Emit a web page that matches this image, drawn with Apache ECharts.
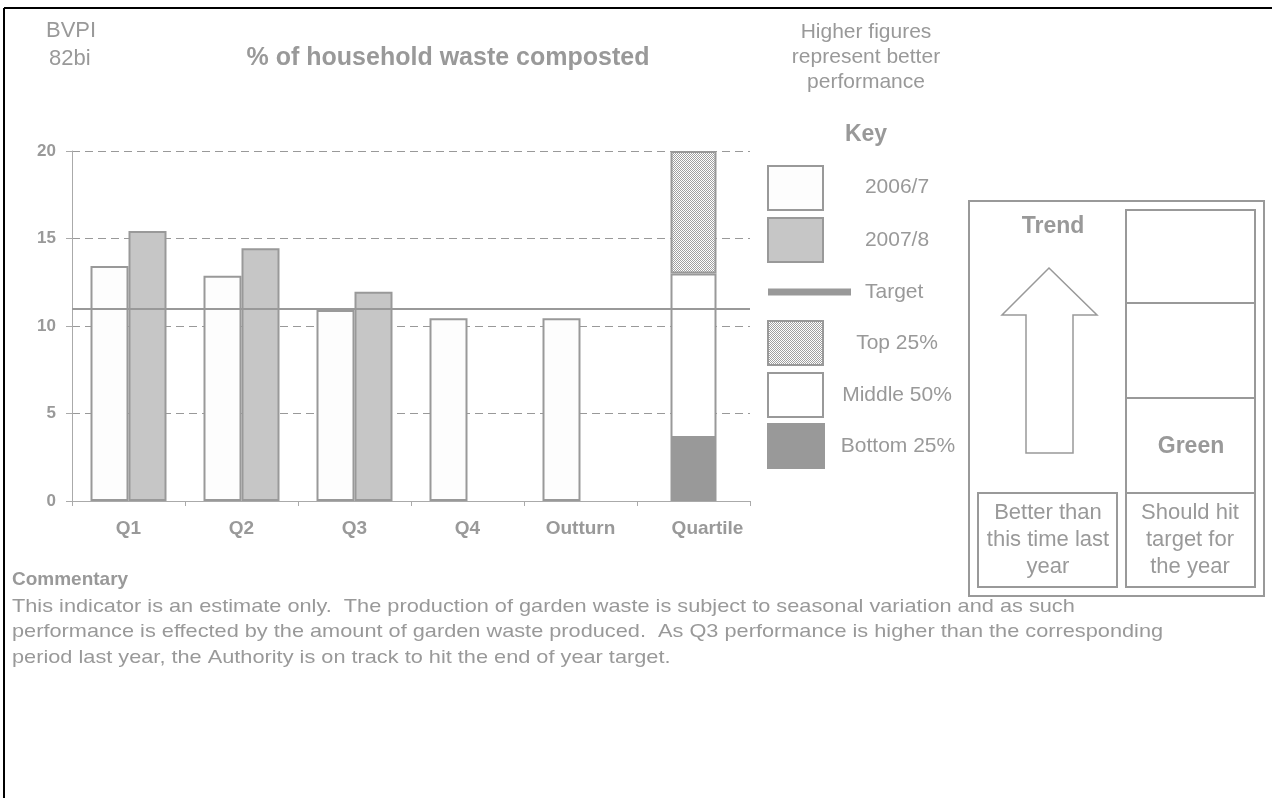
<!DOCTYPE html>
<html>
<head>
<meta charset="utf-8">
<script src="https://cdn.jsdelivr.net/npm/echarts@6/dist/echarts.min.js"></script>
<style>
html,body{margin:0;padding:0;background:#fff;}
#c{width:1272px;height:798px;}
</style>
</head>
<body>
<div id="c"></div>
<script>
const categories = ['Q1', 'Q2', 'Q3', 'Q4', 'Outturn', 'Quartile'];
const y2006 = [13.43, 12.87, 10.91, 10.44, 10.44, '-'];
const y2007 = [15.43, 14.44, 11.96, '-', '-', '-'];
const target = 11;
const quartileBottom = ['-', '-', '-', '-', '-', 3.6];
const quartileMiddle = ['-', '-', '-', '-', '-', 9.4];
const quartileTop = ['-', '-', '-', '-', '-', 7.0];
const yTicks = [0, 5, 10, 15, 20];

const G = '#999999';
const FONT = 'Liberation Sans, Arial, sans-serif';

const pc = document.createElement('canvas');
pc.width = 2; pc.height = 2;
const px = pc.getContext('2d');
px.fillStyle = '#ffffff'; px.fillRect(0, 0, 2, 2);
px.fillStyle = '#a0a0a0'; px.fillRect(0, 0, 1, 1); px.fillRect(1, 1, 1, 1);

const chart = echarts.init(document.getElementById('c'), null, {renderer: 'canvas'});

function txt(x, y, text, size, bold, align, extra) {
  return Object.assign({
    type: 'text', x: x, y: y, silent: true,
    style: {text: text, fill: G, font: (bold ? 'bold ' : '') + size + 'px ' + FONT,
            textAlign: align || 'left', textVerticalAlign: 'middle'}
  }, extra || {});
}
function rect(x, y, w, h, fill, stroke, lw) {
  return {type: 'rect', silent: true, shape: {x: x, y: y, width: w, height: h},
          style: {fill: fill, stroke: stroke || null, lineWidth: lw || 0}};
}
function line(x1, y1, x2, y2, stroke, lw) {
  return {type: 'line', silent: true, shape: {x1: x1, y1: y1, x2: x2, y2: y2},
          style: {stroke: stroke, lineWidth: lw}};
}
const wide = {scaleX: 1.144};

const graphics = [
  line(4, 8, 1272, 8, '#000', 2),
  line(4, 8, 4, 798, '#000', 2),
  txt(46, 31, 'BVPI', 22, false),
  txt(49, 59, '82bi', 22, false),
  txt(448, 58, '% of household waste composted', 25, true, 'center'),
  txt(866, 32, 'Higher figures', 21, false, 'center'),
  txt(866, 57, 'represent better', 21, false, 'center'),
  txt(866, 82, 'performance', 21, false, 'center'),
  txt(866, 135, 'Key', 23, true, 'center'),
  // key
  rect(768, 166, 55, 44, '#fdfdfd', G, 2),
  txt(897, 187, '2006/7', 21, false, 'center'),
  rect(768, 218, 55, 44, '#c6c6c6', G, 2),
  txt(897, 240, '2007/8', 21, false, 'center'),
  line(768, 292, 851, 292, G, 7),
  txt(865, 292, 'Target', 21, false, 'left'),
  rect(768, 321, 55, 44, {image: pc, repeat: 'repeat'}, G, 2),
  txt(897, 343, 'Top 25%', 21, false, 'center'),
  rect(768, 373, 55, 44, '#ffffff', G, 2),
  txt(897, 395, 'Middle 50%', 21, false, 'center'),
  rect(767, 423, 58, 46, G, null, 0),
  txt(898, 446, 'Bottom 25%', 21, false, 'center'),
  // right panel
  rect(969, 201, 295, 395, 'none', G, 2),
  rect(1126, 210, 129, 377, 'none', G, 2),
  line(1126, 303, 1255, 303, G, 2),
  line(1126, 398, 1255, 398, G, 2),
  line(1126, 493, 1255, 493, G, 2),
  rect(978, 493, 139, 94, 'none', G, 2),
  txt(1053, 227, 'Trend', 23, true, 'center'),
  {type: 'polygon', silent: true,
   shape: {points: [[1049, 268], [1097, 315], [1073, 315], [1073, 453], [1026, 453], [1026, 315], [1002, 315]]},
   style: {fill: '#fff', stroke: G, lineWidth: 1.5}},
  txt(1191, 447, 'Green', 23, true, 'center'),
  txt(1048, 513, 'Better than', 22, false, 'center'),
  txt(1048, 540, 'this time last', 22, false, 'center'),
  txt(1048, 567, 'year', 22, false, 'center'),
  txt(1190, 513, 'Should hit', 22, false, 'center'),
  txt(1190, 540, 'target for', 22, false, 'center'),
  txt(1190, 567, 'the year', 22, false, 'center'),
  // commentary
  txt(12, 580, 'Commentary', 19, true, 'left'),
  txt(12, 607, 'This indicator is an estimate only.  The production of garden waste is subject to seasonal variation and as such', 19, false, 'left', wide),
  txt(12, 632, 'performance is effected by the amount of garden waste produced.  As Q3 performance is higher than the corresponding', 19, false, 'left', wide),
  txt(12, 658, 'period last year, the Authority is on track to hit the end of year target.', 19, false, 'left', wide)
];

const catData = categories.map(function (c, i) {
  return i === categories.length - 1 ? {value: c, textStyle: {padding: [0, 0, 0, 28]}} : c;
});

const option = {
  animation: false,
  backgroundColor: '#ffffff',
  grid: {left: 72, right: 522, top: 151, bottom: 297, containLabel: false},
  xAxis: [{
    type: 'category', data: catData, gridIndex: 0,
    axisLine: {lineStyle: {color: '#aaaaaa', width: 1}},
    axisTick: {show: true, length: 5, lineStyle: {color: '#aaaaaa'}},
    axisLabel: {color: G, fontWeight: 'bold', fontSize: 19, fontFamily: FONT, margin: 18}
  }, {
    type: 'category', data: categories, gridIndex: 0, show: false
  }],
  yAxis: {
    type: 'value', min: yTicks[0], max: yTicks[yTicks.length - 1], interval: 5,
    axisLine: {show: true, lineStyle: {color: '#aaaaaa', width: 1}},
    axisTick: {show: true, length: 6, lineStyle: {color: '#aaaaaa'}},
    axisLabel: {color: G, fontWeight: 'bold', fontSize: 17, fontFamily: FONT, margin: 16},
    splitLine: {show: true, lineStyle: {color: G, type: [8, 5], width: 1}}
  },
  series: [{
    name: '2006/7', type: 'bar', xAxisIndex: 0, data: y2006, barWidth: 38, barGap: '0%',
    itemStyle: {color: '#fdfdfd', borderColor: G, borderWidth: 2}, z: 2
  }, {
    name: '2007/8', type: 'bar', xAxisIndex: 0, data: y2007, barWidth: 38, barGap: '0%',
    itemStyle: {color: '#c6c6c6', borderColor: G, borderWidth: 2}, z: 2
  }, {
    name: 'Bottom 25%', type: 'bar', xAxisIndex: 1, stack: 'q', data: quartileBottom, barWidth: 46,
    itemStyle: {color: G, borderWidth: 0}, z: 2
  }, {
    name: 'Middle 50%', type: 'bar', xAxisIndex: 1, stack: 'q', data: quartileMiddle, barWidth: 46,
    itemStyle: {color: '#ffffff', borderColor: G, borderWidth: 2}, z: 2
  }, {
    name: 'Top 25%', type: 'bar', xAxisIndex: 1, stack: 'q', data: quartileTop, barWidth: 46,
    itemStyle: {color: {image: pc, repeat: 'repeat'}, borderColor: G, borderWidth: 2}, z: 2,
    markLine: {
      silent: true, symbol: ['none', 'none'], label: {show: false},
      lineStyle: {color: G, type: 'solid', width: 2},
      data: [{yAxis: target}], z: 5
    }
  }],
  graphic: graphics
};
chart.setOption(option);
</script>
</body>
</html>
